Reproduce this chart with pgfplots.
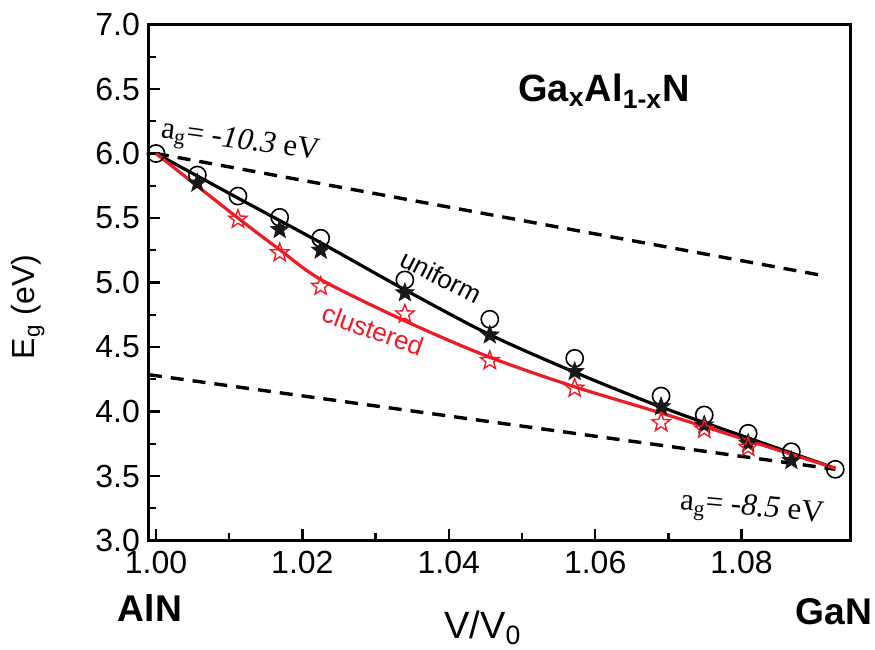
\documentclass[border=0pt]{standalone}
\usepackage{pgfplots}
\pgfplotsset{compat=1.18}
\usepackage{fontspec}
\setmainfont{Liberation Sans}
\newfontfamily\timesfont{Liberation Serif}
\definecolor{myred}{RGB}{237,28,36}
\pgfdeclareplotmark{fstar}{%
 \pgfpathmoveto{\pgfpointpolar{90}{\pgfplotmarksize}}%
 \pgfpathlineto{\pgfpointpolar{126}{0.42\pgfplotmarksize}}%
 \pgfpathlineto{\pgfpointpolar{162}{\pgfplotmarksize}}%
 \pgfpathlineto{\pgfpointpolar{198}{0.42\pgfplotmarksize}}%
 \pgfpathlineto{\pgfpointpolar{234}{\pgfplotmarksize}}%
 \pgfpathlineto{\pgfpointpolar{270}{0.42\pgfplotmarksize}}%
 \pgfpathlineto{\pgfpointpolar{306}{\pgfplotmarksize}}%
 \pgfpathlineto{\pgfpointpolar{342}{0.42\pgfplotmarksize}}%
 \pgfpathlineto{\pgfpointpolar{18}{\pgfplotmarksize}}%
 \pgfpathlineto{\pgfpointpolar{54}{0.42\pgfplotmarksize}}%
 \pgfpathclose
 \pgfusepathqfillstroke}
\pgfdeclareplotmark{ostar}{%
 \pgfpathmoveto{\pgfpointpolar{90}{\pgfplotmarksize}}%
 \pgfpathlineto{\pgfpointpolar{126}{0.42\pgfplotmarksize}}%
 \pgfpathlineto{\pgfpointpolar{162}{\pgfplotmarksize}}%
 \pgfpathlineto{\pgfpointpolar{198}{0.42\pgfplotmarksize}}%
 \pgfpathlineto{\pgfpointpolar{234}{\pgfplotmarksize}}%
 \pgfpathlineto{\pgfpointpolar{270}{0.42\pgfplotmarksize}}%
 \pgfpathlineto{\pgfpointpolar{306}{\pgfplotmarksize}}%
 \pgfpathlineto{\pgfpointpolar{342}{0.42\pgfplotmarksize}}%
 \pgfpathlineto{\pgfpointpolar{18}{\pgfplotmarksize}}%
 \pgfpathlineto{\pgfpointpolar{54}{0.42\pgfplotmarksize}}%
 \pgfpathclose
 \pgfusepathqstroke}
\begin{document}
\begin{tikzpicture}
\begin{axis}[
  scale only axis,
  width=350.85pt, height=258pt,
  xmin=0.99904, xmax=1.0949,
  ymin=3, ymax=7,
  xtick={1,1.02,1.04,1.06,1.08},
  ytick={3,3.5,4,4.5,5,5.5,6,6.5,7},
  minor x tick num=1, minor y tick num=1,
  tick pos=left, tick align=inside,
  major tick length=5.5pt, minor tick length=3.5pt,
  every tick/.style={line width=1.2pt, black},
  axis line style={line width=1.5pt},
  /pgf/number format/assume math mode=true,
  xticklabel style={/pgf/number format/fixed, /pgf/number format/fixed zerofill, /pgf/number format/precision=2, yshift=-2pt},
  yticklabel style={/pgf/number format/fixed, /pgf/number format/fixed zerofill, /pgf/number format/precision=1, xshift=-1pt},
  ticklabel style={font=\fontsize{16}{18}\selectfont},
  clip=false,
]
% dashed limits
\addplot[black, line width=1.7pt, dash pattern=on 6.5pt off 4.5pt] coordinates {(1.0,6.0) (1.0907,5.058)};
\addplot[black, line width=1.7pt, dash pattern=on 6.5pt off 4.5pt] coordinates {(0.99904,4.285) (1.0928,3.552)};
% uniform line
\addplot[black, line width=1.6pt, smooth] coordinates {
(1.0,6.0) (1.01124,5.653) (1.02264,5.304) (1.03425,4.936) (1.0454,4.601) (1.057,4.309) (1.0689,4.037) (1.0809,3.795) (1.0928,3.56)};
% clustered line
\addplot[myred, line width=1.6pt, smooth] coordinates {
(1.0,6.0) (1.01124,5.498) (1.01694,5.252) (1.02264,5.019) (1.03425,4.696) (1.0454,4.425) (1.057,4.195) (1.0689,3.99) (1.0809,3.775) (1.0928,3.56)};
% circles
\addplot[only marks, mark=o, mark size=4.3pt, black, mark options={line width=0.8pt}] coordinates {
(1.0,6.0) (1.00565,5.833) (1.0112,5.67) (1.0169,5.505) (1.0225,5.343) (1.034,5.02) (1.0456,4.715) (1.0572,4.412) (1.069,4.12) (1.0749,3.973) (1.0809,3.831) (1.0868,3.688) (1.0928,3.552)};
% black stars
\addplot[only marks, mark=fstar, mark size=4.8pt, black!90, mark options={line width=0.4pt}] coordinates {
(1.00565,5.77) (1.0169,5.41) (1.0225,5.25) (1.034,4.92) (1.0456,4.593) (1.0572,4.309) (1.069,4.037) (1.0749,3.895) (1.0809,3.753) (1.0868,3.619)};
% red stars
\addplot[only marks, mark=ostar, mark size=4.8pt, myred, mark options={line width=0.7pt}] coordinates {
(1.0112,5.49) (1.0169,5.23) (1.0225,4.97) (1.034,4.755) (1.0456,4.394) (1.0572,4.18) (1.069,3.913) (1.0749,3.862) (1.0809,3.722)};
% texts
\node[anchor=base, font=\fontsize{19}{22}\selectfont\bfseries] at (axis cs:1.0612,6.4016) {Ga\textsubscript{x}Al\textsubscript{1-x}N};
\node[rotate=-8, font=\fontsize{15.5}{18}\selectfont\timesfont] at (axis cs:1.01148,6.081) {a\textsubscript{g}= \textit{-10.3} eV};
\node[rotate=-5, font=\fontsize{15.5}{18}\selectfont\timesfont] at (axis cs:1.0814,3.236) {a\textsubscript{g}= \textit{-8.5} eV};
\node[rotate=-27, font=\fontsize{13}{15}\selectfont] at (axis cs:1.039,5.045) {uniform};
\node[rotate=-20, text=myred, font=\fontsize{13}{15}\selectfont] at (axis cs:1.02964,4.632) {clustered};
\node[anchor=base, font=\fontsize{18.6}{22}\selectfont\bfseries] at (axis cs:0.99918,2.3705) {AlN};
\node[anchor=base, font=\fontsize{18.6}{22}\selectfont\bfseries] at (axis cs:1.0926,2.345) {GaN};
\node[anchor=base, font=\fontsize{19}{22}\selectfont] at (axis cs:1.04467,2.244) {V/V\textsubscript{0}};
\node[rotate=90, font=\fontsize{16}{18}\selectfont] at (rel axis cs:-0.1724,0.4525) {E\textsubscript{g} (eV)};
\coordinate (bl) at (rel axis cs:-0.2123,-0.2122);
\coordinate (tr) at (rel axis cs:1.0347,1.0475);
\end{axis}
\pgfresetboundingbox
\path[use as bounding box] (bl) rectangle (tr);
\end{tikzpicture}
\end{document}
